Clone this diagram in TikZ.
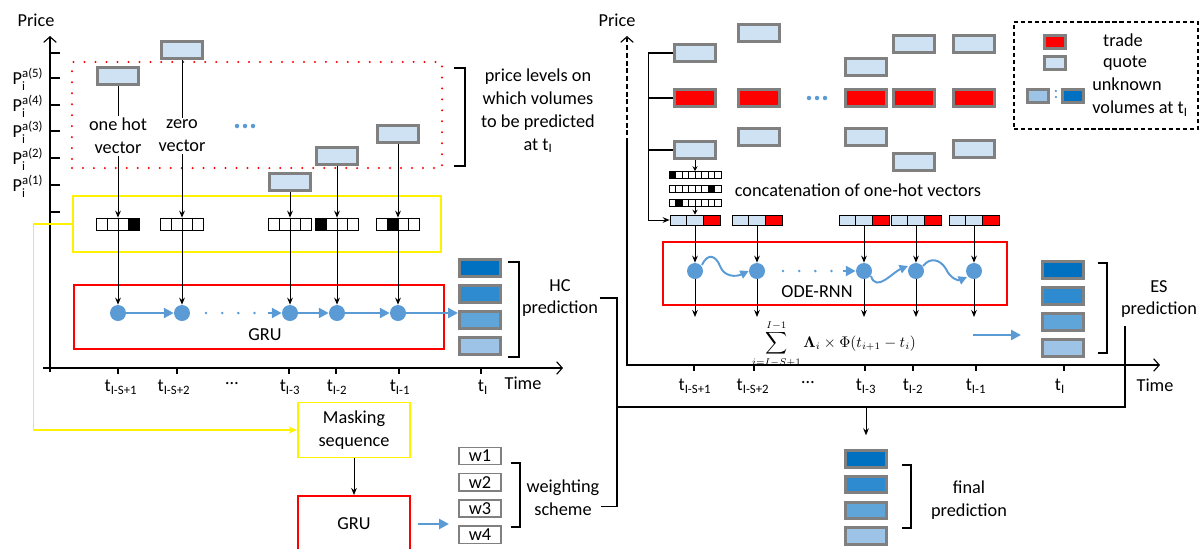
\documentclass[tikz,border=0pt]{standalone}
\usepackage[no-math]{fontspec}
\setmainfont{Carlito}
\usepackage{amsmath}
\usetikzlibrary{positioning,calc,arrows.meta}

\definecolor{quotefill}{RGB}{207,226,243}
\definecolor{boxgray}{RGB}{128,128,128}
\definecolor{dotblue}{RGB}{91,155,213}
\definecolor{pred1}{RGB}{0,112,192}
\definecolor{pred2}{RGB}{46,139,208}
\definecolor{pred3}{RGB}{96,165,218}
\definecolor{pred4}{RGB}{157,195,230}

\newcommand{\plev}[1]{P$_{\text{i}}^{\text{a(#1)}}$}
\newcommand{\tsub}[1]{t$_{\text{#1}}$}

\begin{document}
\begin{tikzpicture}[
    x=0.025cm, y=-0.025cm,
    font=\fontsize{13}{16.3}\selectfont,
    tag/.style={align=center, inner sep=1pt},
    quote/.style={draw=boxgray, line width=2pt, fill=quotefill, minimum width=1.03cm, minimum height=0.41cm, inner sep=0pt},
    trade/.style={quote, fill=red},
    pred/.style={quote, fill=#1},
    legicon/.style={quote, minimum width=0.53cm, minimum height=0.33cm},
    wbox/.style={draw=boxgray, line width=1pt, minimum width=1.05cm, minimum height=0.43cm, inner sep=0pt},
    cell/.style 2 args={draw, line width=0.6pt, inner sep=0pt, minimum width=#1, minimum height=#2},
    gdot/.style={circle, fill=dotblue, minimum size=0.4cm, inner sep=0pt},
    arr/.style={-{Stealth[length=5pt,width=4pt]}, line width=0.7pt},
    sarr/.style={-{Stealth[length=3.5pt,width=3.5pt]}, line width=0.7pt},
    barr/.style={-{Triangle[length=7pt,width=7pt]}, draw=dotblue, line width=2pt},
    wavy/.style={-{Triangle[length=6pt,width=6pt]}, draw=dotblue, line width=1.4pt},
    dots/.style={draw=dotblue, line width=2pt, line cap=round, dash pattern=on 0pt off 11.5pt},
    axisline/.style={-{Straight Barb[length=4pt,width=9pt]}, line width=0.8pt},
    brk/.style={line width=0.8pt},
    zone/.style={line width=1.4pt}
  ]
  \useasboundingbox (0,0) rectangle (1199,548);

  % ---------- left panel: axes ----------
  \node (lprice) at (36,20) {Price};
  \draw[axisline] (50,372) -- (50,36);
  \draw[axisline] (43,368) -- (563,368);
  \foreach \y in {53,78,105,131,158,185,212}
    \draw[line width=0.8pt] (50,\y) -- (60,\y);
  \foreach \y/\a in {79/5,106/4,132/3,159/2,186/1}
    \node (pl\a) at (28,\y) {\plev{\a}};
  \foreach \x in {118,177,289,336,399,481}
    \draw[line width=0.8pt] (\x,368) -- (\x,374);
  \foreach \x/\lab [count=\n] in {121/I-S+1,174/I-S+2,290/I-3,337/I-2,400/I-1,483/I}
    \node (lt\n) at (\x,387) {\tsub{\lab}};
  \node (ldots) at (232,384) {\ldots};
  \node (ltime) at (523,383) {Time};

  % price levels
  \node[draw=red, line width=1.6pt, line cap=round, dash pattern=on 0pt off 7.8pt,
        minimum width=9.25cm, minimum height=2.65cm] (levels) at (257,115) {};
  \node[quote] (q1) at (118,76) {};
  \node[quote] (q2) at (182,50) {};
  \node[quote] (q3) at (290,182) {};
  \node[quote] (q4) at (337,156) {};
  \node[quote] (q5) at (398,134) {};
  \node[tag] (oneh) at (118,136) {one hot\\vector};
  \node[tag] (zero) at (182,136) {zero\\vector};
  \foreach \d in {-8,0,8}
    \fill[dotblue] (245+\d,126) circle (1.6pt);
  \draw[brk] (454,68) -- (465,68) -- (465,166) -- (454,166);
  \node[tag] (levtag) at (538,111) {price levels on\\which volumes\\to be predicted\\at \tsub{I}};

  % one-hot vectors
  \node[draw=yellow, zone, minimum width=9.22cm, minimum height=1.4cm] (mbox) at (257,224) {};
  \foreach \cx/\hot [count=\n] in {118/4,182/0,290/0,337/1,398/2}{
    \foreach \k in {1,...,4}
      \node[cell={0.269cm}{0.3cm}] at ({\cx+(\k-2.5)*10.75},224) {};
    \ifnum\hot>0
      \node[cell={0.269cm}{0.3cm}, fill=black] at ({\cx+(\hot-2.5)*10.75},224) {};
    \fi
    \node[inner sep=0pt, minimum width=1.075cm, minimum height=0.3cm] (oh\n) at (\cx,224) {};
  }
  \draw[line width=0.7pt] (q1) -- (oneh) (q2) -- (zero);
  \path[arr]
    (oneh) edge (oh1)
    (zero) edge (oh2)
    (q3) edge (oh3)
    (q4) edge (oh4)
    (q5) edge (oh5);

  % GRU chain
  \node[draw=red, zone, minimum width=9.25cm, minimum height=1.6cm] (grubox) at (259,317) {};
  \node (grutag) at (265,335) {GRU};
  \foreach \x [count=\n] in {118,182,290,337,398}
    \node[gdot] (g\n) at (\x,313) {};
  \path[arr]
    (oh1) edge (g1)
    (oh2) edge (g2)
    (oh3) edge (g3)
    (oh4) edge (g4)
    (oh5) edge (g5);
  \coordinate (gda) at (206,313);
  \coordinate (gdb) at (256,313);
  \coordinate (gdc) at (268,313);
  \draw[dots] (gda) -- (gdb);
  \draw[barr] (g1) -- (g2);
  \draw[barr] (gdc) -- (g3);
  \draw[barr] (g3) -- (g4);
  \draw[barr] (g4) -- (g5);

  % HC prediction
  \node[pred=pred1] (hc1) at (480,268) {};
  \node[pred=pred2, below=4.8pt of hc1] (hc2) {};
  \node[pred=pred3, below=4.8pt of hc2] (hc3) {};
  \node[pred=pred4, below=4.8pt of hc3] (hc4) {};
  \draw[barr] (g5) -- (g5 -| hc3.west);
  \draw[brk] (508,262) -- (519,262) -- (519,357) -- (508,357);
  \node[tag] (hclab) at (560,298) {HC\\prediction};

  % masking and weights
  \node[draw=yellow, zone, minimum width=2.8cm, minimum height=1.375cm, align=center] (mask) at (354,430) {Masking\\sequence};
  \node[draw=red, zone, minimum width=2.8cm, minimum height=1.4cm] (gru) at (354,524) {GRU};
  \draw[draw=yellow, line width=1pt, -{Stealth[length=6pt,width=5pt]}] (mbox.west) -- ++(-38,0) |- (mask.west);
  \draw[arr] (mask) -- (gru);
  \draw[barr] ([xshift=5pt]gru.east) -- ++(31,0);
  \node[wbox] (w1) at (480,456) {w1};
  \node[wbox, below=5.4pt of w1] (w2) {w2};
  \node[wbox, below=5.4pt of w2] (w3) {w3};
  \node[wbox, below=5.4pt of w3] (w4) {w4};
  \draw[brk] (511,463) -- (520,463) -- (520,527) -- (511,527);
  \node[tag] (wlab) at (563,498) {weighting\\scheme};

  % ---------- right panel: axes ----------
  \node (rprice) at (617,20) {Price};
  \draw[axisline, dash pattern=on 3.5pt off 2pt] (627,143) -- (627,36);
  \draw[axisline] (627,143) -- (627,365) -- (1160,365);
  \foreach \x in {694,754,865,913,976,1064}
    \draw[line width=0.8pt] (\x,365) -- (\x,371);
  \foreach \x/\lab [count=\n] in {695/I-S+1,753/I-S+2,866/I-3,913/I-2,976/I-1,1060/I}
    \node (rt\n) at (\x,386) {\tsub{\lab}};
  \node (rdots) at (808,383) {\ldots};
  \node (rtime) at (1155,385) {Time};

  % trades and quotes
  \foreach \x/\ya/\yb [count=\k] in {695/53/150,759/33/137,866/67/137,914/44/162,974/44/149}{
    \node[quote] (a\k) at (\x,\ya) {};
    \node[trade] (t\k) at (\x,98) {};
    \node[quote] (b\k) at (\x,\yb) {};
  }
  \foreach \d in {-8,0,8}
    \fill[dotblue] (817+\d,98) circle (1.6pt);

  % concatenated one-hot vectors
  \foreach \yy/\hot [count=\n] in {175/1,189/7,203/2}{
    \foreach \k in {1,...,8}
      \node[cell={0.1625cm}{0.175cm}] at ({695+(\k-4.5)*6.5},\yy) {};
    \node[cell={0.1625cm}{0.175cm}, fill=black] at ({695+(\hot-4.5)*6.5},\yy) {};
    \node[inner sep=0pt, minimum width=1.3cm, minimum height=0.175cm] (r\n) at (695,\yy) {};
  }
  \node (concat) at (858,190) {concatenation of one-hot vectors};
  \foreach \x [count=\n] in {695,757,864,916,974}{
    \node[cell={0.417cm}{0.25cm}, fill=quotefill] at (\x-16.7,220) {};
    \node[cell={0.417cm}{0.25cm}, fill=quotefill] at (\x,220) {};
    \node[cell={0.417cm}{0.25cm}, fill=red] at (\x+16.7,220) {};
    \node[inner sep=0pt, minimum width=1.25cm, minimum height=0.25cm] (cv\n) at (\x,220) {};
  }
  \draw[brk] (a1.west) -- ++(-25,0) coordinate (rtop);
  \draw[brk] (t1.west) -- (t1.west -| rtop);
  \draw[brk] (b1.west) -- (b1.west -| rtop);
  \draw[arr] (rtop) |- (cv1.west);
  \draw[sarr] (b1) -- (r1);
  \draw[sarr] (r3) -- (cv1);

  % ODE-RNN chain
  \node[draw=red, zone, minimum width=8.6cm, minimum height=1.575cm] (odebox) at (835,273.5) {};
  \node[inner sep=1pt] (odetag) at (817,292) {ODE-RNN};
  \coordinate (sumtop) at (0,317);
  \foreach \x [count=\n] in {695,757,864,916,974}{
    \node[gdot] (od\n) at (\x,271) {};
    \draw[arr] (cv\n) -- (od\n);
    \draw[arr] (od\n) -- (od\n |- sumtop);
  }
  \draw[wavy] (702,265) .. controls (708,252) and (716,256) .. (720,266)
              .. controls (724,277) and (736,277) .. (od2.west);
  \coordinate (oda) at (783,271);
  \coordinate (odb) at (833,271);
  \coordinate (odc) at (843,271);
  \draw[dots] (oda) -- (odb);
  \draw[barr] (odc) -- (od3.west);
  \draw[wavy] (871,276) .. controls (876,293) and (893,272) .. (908,266);
  \draw[wavy] (923,266) .. controls (930,257) and (940,259) .. (946,269)
              .. controls (950,278) and (958,281) .. (967,277);
  \node[font=\fontsize{10.5}{12}\selectfont, inner sep=0pt] (esum) at (834,344)
    {$\displaystyle\sum_{i=I-S+1}^{I-1} \mathbf{\Lambda}_i \times \Phi(t_{i+1}-t_i)$};

  % ES prediction
  \node[pred=pred1] (es1) at (1063,270) {};
  \node[pred=pred2, below=4.8pt of es1] (es2) {};
  \node[pred=pred3, below=4.8pt of es2] (es3) {};
  \node[pred=pred4, below=4.8pt of es3] (es4) {};
  \coordinate (esin) at (973,335);
  \draw[barr] (esin) -- ++(48,0);
  \draw[brk] (1098,263) -- (1107,263) -- (1107,353) -- (1098,353);
  \node[tag] (eslab) at (1159,299) {ES\\prediction};

  % final prediction
  \node[pred=pred1] (fp1) at (866,459) {};
  \node[pred=pred2, below=4.6pt of fp1] (fp2) {};
  \node[pred=pred3, below=4.6pt of fp2] (fp3) {};
  \node[pred=pred4, below=4.6pt of fp3] (fp4) {};
  \draw[brk] (902,465) -- (911,465) -- (911,528) -- (902,528);
  \node[tag] (fplab) at (969,500) {final\\prediction};

  % joining the three predictions
  \coordinate (jn) at (617,407);
  \coordinate (esfoot) at (1125,326);
  \draw[brk] (hclab.east) -| (jn) |- ([yshift=-6pt]wlab.east);
  \draw[brk] (esfoot) |- (jn);
  \draw[arr] (jn -| fp1) -- ([yshift=10pt]fp1.north);

  % legend
  \node[draw, line width=0.9pt, dash pattern=on 3pt off 2pt, minimum width=4.6cm, minimum height=2.68cm] (legend) at (1106,75.5) {};
  \node[legicon, fill=red] (lgtrade) at (1055,42) {};
  \node[legicon] (lgquote) at (1055,63) {};
  \node (lgtt) at (1123,40) {trade};
  \node (lgqt) at (1125,63) {quote};
  \node[legicon, fill=pred4] (lglo) at (1038,96) {};
  \node[text=dotblue, inner sep=0pt] (lgcol) at (1056,95) {:};
  \node[legicon, fill=pred1] (lghi) at (1073,96) {};
  \node[anchor=west, align=left, inner sep=0pt] (lgut) at (1092,97) {unknown\\volumes at \tsub{I}};
\end{tikzpicture}
\end{document}
